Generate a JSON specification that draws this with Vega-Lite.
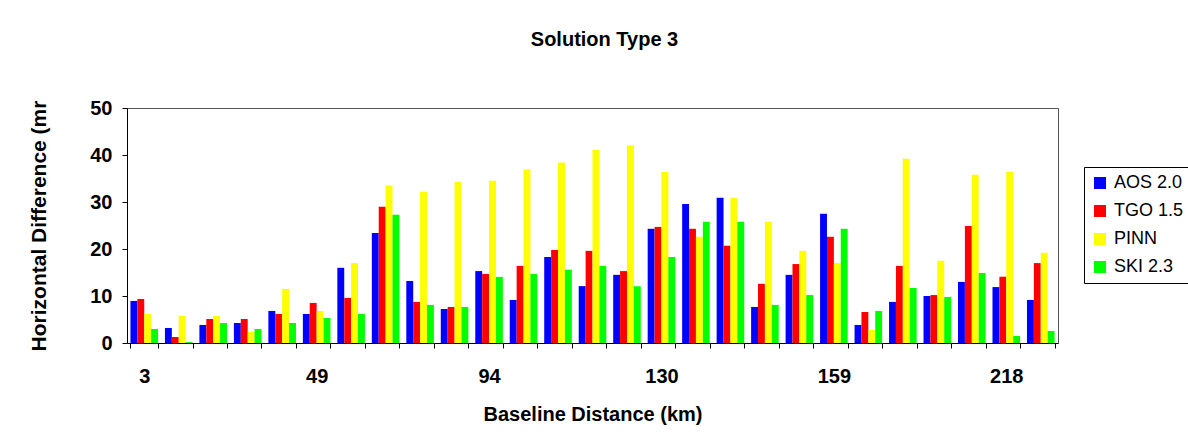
{
  "$schema": "https://vega.github.io/schema/vega-lite/v6.json",
  "width": 931,
  "height": 235,
  "autosize": {"type": "none"},
  "padding": {"left": 127, "top": 108, "right": 130, "bottom": 95},
  "background": "white",
  "title": {"text": "Solution Type 3", "anchor": "middle", "frame": "group", "fontSize": 20, "fontWeight": "bold", "font": "Liberation Sans", "color": "black", "offset": 48, "dx": 12},
  "data": {"values": [
    {"g":0,"series":"AOS 2.0","v":8.95},{"g":0,"series":"TGO 1.5","v":9.37},{"g":0,"series":"PINN","v":6.18},{"g":0,"series":"SKI 2.3","v":2.98},
    {"g":1,"series":"AOS 2.0","v":3.2},{"g":1,"series":"TGO 1.5","v":1.28},{"g":1,"series":"PINN","v":5.75},{"g":1,"series":"SKI 2.3","v":0.2},
    {"g":2,"series":"AOS 2.0","v":3.84},{"g":2,"series":"TGO 1.5","v":5.11},{"g":2,"series":"PINN","v":5.75},{"g":2,"series":"SKI 2.3","v":4.26},
    {"g":3,"series":"AOS 2.0","v":4.26},{"g":3,"series":"TGO 1.5","v":5.11},{"g":3,"series":"PINN","v":2.34},{"g":3,"series":"SKI 2.3","v":2.98},
    {"g":4,"series":"AOS 2.0","v":6.82},{"g":4,"series":"TGO 1.5","v":6.18},{"g":4,"series":"PINN","v":11.5},{"g":4,"series":"SKI 2.3","v":4.26},
    {"g":5,"series":"AOS 2.0","v":6.18},{"g":5,"series":"TGO 1.5","v":8.52},{"g":5,"series":"PINN","v":6.82},{"g":5,"series":"SKI 2.3","v":5.33},
    {"g":6,"series":"AOS 2.0","v":16.0},{"g":6,"series":"TGO 1.5","v":9.59},{"g":6,"series":"PINN","v":17.0},{"g":6,"series":"SKI 2.3","v":6.18},
    {"g":7,"series":"AOS 2.0","v":23.4},{"g":7,"series":"TGO 1.5","v":29.0},{"g":7,"series":"PINN","v":33.5},{"g":7,"series":"SKI 2.3","v":27.3},
    {"g":8,"series":"AOS 2.0","v":13.2},{"g":8,"series":"TGO 1.5","v":8.74},{"g":8,"series":"PINN","v":32.2},{"g":8,"series":"SKI 2.3","v":8.1},
    {"g":9,"series":"AOS 2.0","v":7.24},{"g":9,"series":"TGO 1.5","v":7.67},{"g":9,"series":"PINN","v":34.3},{"g":9,"series":"SKI 2.3","v":7.67},
    {"g":10,"series":"AOS 2.0","v":15.3},{"g":10,"series":"TGO 1.5","v":14.7},{"g":10,"series":"PINN","v":34.5},{"g":10,"series":"SKI 2.3","v":14.06},
    {"g":11,"series":"AOS 2.0","v":9.16},{"g":11,"series":"TGO 1.5","v":16.4},{"g":11,"series":"PINN","v":36.9},{"g":11,"series":"SKI 2.3","v":14.7},
    {"g":12,"series":"AOS 2.0","v":18.3},{"g":12,"series":"TGO 1.5","v":19.8},{"g":12,"series":"PINN","v":38.4},{"g":12,"series":"SKI 2.3","v":15.6},
    {"g":13,"series":"AOS 2.0","v":12.1},{"g":13,"series":"TGO 1.5","v":19.6},{"g":13,"series":"PINN","v":41.1},{"g":13,"series":"SKI 2.3","v":16.4},
    {"g":14,"series":"AOS 2.0","v":14.5},{"g":14,"series":"TGO 1.5","v":15.3},{"g":14,"series":"PINN","v":42.0},{"g":14,"series":"SKI 2.3","v":12.1},
    {"g":15,"series":"AOS 2.0","v":24.3},{"g":15,"series":"TGO 1.5","v":24.7},{"g":15,"series":"PINN","v":36.4},{"g":15,"series":"SKI 2.3","v":18.3},
    {"g":16,"series":"AOS 2.0","v":29.6},{"g":16,"series":"TGO 1.5","v":24.3},{"g":16,"series":"PINN","v":22.6},{"g":16,"series":"SKI 2.3","v":25.8},
    {"g":17,"series":"AOS 2.0","v":30.9},{"g":17,"series":"TGO 1.5","v":20.7},{"g":17,"series":"PINN","v":30.9},{"g":17,"series":"SKI 2.3","v":25.8},
    {"g":18,"series":"AOS 2.0","v":7.67},{"g":18,"series":"TGO 1.5","v":12.6},{"g":18,"series":"PINN","v":25.8},{"g":18,"series":"SKI 2.3","v":8.1},
    {"g":19,"series":"AOS 2.0","v":14.5},{"g":19,"series":"TGO 1.5","v":16.8},{"g":19,"series":"PINN","v":19.6},{"g":19,"series":"SKI 2.3","v":10.2},
    {"g":20,"series":"AOS 2.0","v":27.5},{"g":20,"series":"TGO 1.5","v":22.6},{"g":20,"series":"PINN","v":17.0},{"g":20,"series":"SKI 2.3","v":24.3},
    {"g":21,"series":"AOS 2.0","v":3.84},{"g":21,"series":"TGO 1.5","v":6.6},{"g":21,"series":"PINN","v":2.77},{"g":21,"series":"SKI 2.3","v":6.82},
    {"g":22,"series":"AOS 2.0","v":8.74},{"g":22,"series":"TGO 1.5","v":16.4},{"g":22,"series":"PINN","v":39.2},{"g":22,"series":"SKI 2.3","v":11.7},
    {"g":23,"series":"AOS 2.0","v":10.0},{"g":23,"series":"TGO 1.5","v":10.2},{"g":23,"series":"PINN","v":17.5},{"g":23,"series":"SKI 2.3","v":9.8},
    {"g":24,"series":"AOS 2.0","v":13.0},{"g":24,"series":"TGO 1.5","v":24.9},{"g":24,"series":"PINN","v":35.8},{"g":24,"series":"SKI 2.3","v":14.9},
    {"g":25,"series":"AOS 2.0","v":11.9},{"g":25,"series":"TGO 1.5","v":14.1},{"g":25,"series":"PINN","v":36.4},{"g":25,"series":"SKI 2.3","v":1.5},
    {"g":26,"series":"AOS 2.0","v":9.16},{"g":26,"series":"TGO 1.5","v":17.0},{"g":26,"series":"PINN","v":19.2},{"g":26,"series":"SKI 2.3","v":2.56}
  ]},
  "mark": {"type": "bar"},
  "encoding": {
    "x": {
      "field": "g", "type": "ordinal",
      "scale": {"paddingInner": 0.2, "paddingOuter": 0.1},
      "axis": {
        "title": "Baseline Distance (km)",
        "labelAngle": 0,
        "labelOverlap": false,
        "labelExpr": "datum.value == 0 ? '3' : datum.value == 5 ? '49' : datum.value == 10 ? '94' : datum.value == 15 ? '130' : datum.value == 20 ? '159' : datum.value == 25 ? '218' : ''",
        "tickBand": "extent",
        "labelPadding": 18,
        "titlePadding": 18
      }
    },
    "xOffset": {
      "field": "series", "type": "nominal",
      "sort": ["AOS 2.0", "TGO 1.5", "PINN", "SKI 2.3"],
      "scale": {"paddingInner": 0, "paddingOuter": 0}
    },
    "y": {
      "field": "v", "type": "quantitative",
      "scale": {"domain": [0, 50], "nice": false},
      "axis": {
        "title": "Horizontal Difference (mr",
        "titleFontSize": 21,
        "values": [0, 10, 20, 30, 40, 50],
        "grid": false,
        "labelPadding": 10,
        "titlePadding": 40
      }
    },
    "color": {
      "field": "series", "type": "nominal",
      "sort": ["AOS 2.0", "TGO 1.5", "PINN", "SKI 2.3"],
      "scale": {"domain": ["AOS 2.0", "TGO 1.5", "PINN", "SKI 2.3"], "range": ["#0000FF", "#FF0000", "#FFFF00", "#00FF00"]},
      "legend": {
        "title": null,
        "orient": "none",
        "legendX": 957,
        "legendY": 59,
        "strokeColor": "black",
        "fillColor": "white",
        "padding": 7,
        "symbolType": "square",
        "symbolSize": 144,
        "symbolStrokeWidth": 0,
        "symbolOpacity": 1,
        "labelFontSize": 18,
        "labelFont": "Liberation Sans",
        "labelColor": "black",
        "labelOffset": 5,
        "rowPadding": 10
      }
    }
  },
  "config": {
    "view": {"stroke": "#555555", "strokeWidth": 1},
    "axis": {
      "domainColor": "black",
      "tickColor": "black",
      "tickSize": 5,
      "labelFont": "Liberation Sans",
      "labelFontSize": 20,
      "labelFontWeight": "bold",
      "labelColor": "black",
      "titleFont": "Liberation Sans",
      "titleFontSize": 20,
      "titleFontWeight": "bold",
      "titleColor": "black"
    }
  }
}
